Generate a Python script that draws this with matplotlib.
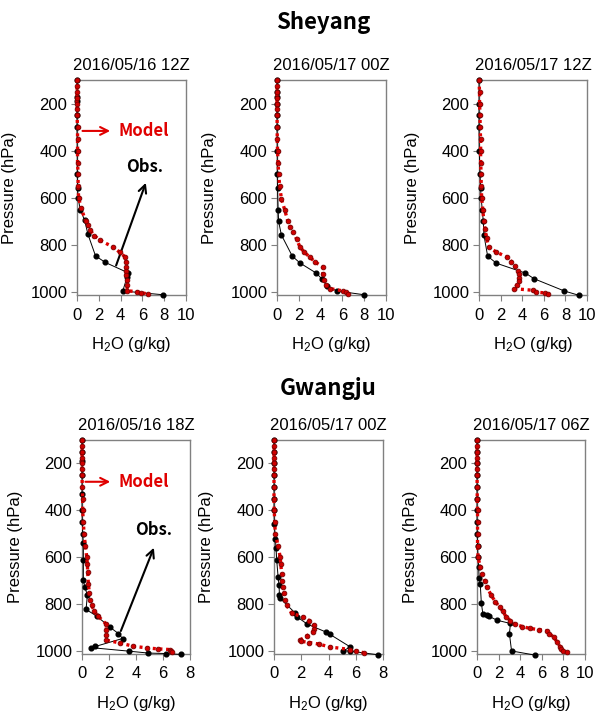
import matplotlib.pyplot as plt

plt.rcParams['font.family'] = ['Liberation Sans', 'DejaVu Sans']
plt.rcParams['mathtext.default'] = 'regular'

# ---- data (pressure hPa, H2O g/kg) ----
# Sheyang 2016/05/16 12Z
p_obs1 = [100, 170, 190, 250, 300, 400, 500, 560, 600, 650, 695, 754, 846, 874, 918, 935, 995, 1011]
q_obs1 = [0, 0, 0, 0, 0, 0.02, 0.03, 0.05, 0.1, 0.3, 0.7, 1.0, 1.7, 2.6, 4.7, 4.6, 4.2, 7.9]
p_mod1 = [100, 125, 150, 175, 200, 225, 250, 300, 350, 400, 450, 500, 550, 600, 645, 700, 716, 737,
          760, 780, 808, 830, 850, 870, 892, 910, 928, 949, 970, 994, 998, 1002, 1008]
q_mod1 = [0, 0, 0, 0, 0, 0, 0, 0.05, 0.05, 0.05, 0.05, 0.1, 0.1, 0.15, 0.4, 0.8, 1.0, 1.2,
          1.6, 2.1, 3.3, 3.9, 4.4, 4.5, 4.5, 4.5, 4.5, 4.6, 4.6, 4.6, 5.5, 5.9, 6.5]

# Sheyang 2016/05/17 00Z
p_obs2 = [100, 150, 170, 200, 250, 300, 400, 500, 560, 650, 700, 757, 847, 876, 919, 943, 975, 995, 1011]
q_obs2 = [0, 0, 0, 0, 0, 0, 0.02, 0.03, 0.05, 0.1, 0.15, 0.4, 1.4, 2.1, 3.6, 4.1, 4.6, 5.5, 8.0]
p_mod2 = [100, 125, 150, 175, 200, 225, 250, 300, 350, 400, 450, 500, 550, 603, 650, 700, 724, 745,
          775, 808, 830, 851, 872, 893, 921, 950, 970, 985, 995, 1000, 1007]
q_mod2 = [0, 0, 0, 0, 0, 0, 0, 0.02, 0.02, 0.05, 0.1, 0.15, 0.25, 0.4, 0.7, 1.0, 1.2, 1.5,
          1.8, 2.1, 2.5, 3.0, 3.5, 4.2, 4.2, 4.3, 4.5, 4.9, 6.1, 6.3, 6.5]

# Sheyang 2016/05/17 12Z
p_obs3 = [100, 200, 250, 300, 400, 500, 560, 600, 650, 700, 759, 847, 877, 919, 943, 995, 1014]
q_obs3 = [0, 0, 0, 0, 0.02, 0.1, 0.15, 0.2, 0.3, 0.4, 0.46, 0.8, 1.6, 4.3, 5.1, 7.9, 9.3]
p_mod3 = [100, 150, 200, 250, 300, 350, 400, 450, 500, 550, 600, 650, 700, 730, 770, 808, 830, 851,
          870, 890, 910, 924, 940, 954, 970, 985, 992, 1000, 1003, 1009]
q_mod3 = [0, 0.05, 0.05, 0.1, 0.1, 0.15, 0.15, 0.15, 0.2, 0.2, 0.25, 0.35, 0.45, 0.55, 0.7, 0.9, 1.6, 2.6,
          3.0, 3.3, 3.6, 3.7, 3.7, 3.7, 3.5, 3.2, 5.0, 5.3, 6.1, 6.4]

# Gwangju 2016/05/16 18Z
p_obs4 = [100, 150, 190, 250, 330, 400, 450, 500, 540, 610, 697, 726, 761, 822, 851, 899, 925, 946,
          980, 985, 1000, 1008, 1010, 1014]
q_obs4 = [0, 0, 0, 0, 0, 0, 0.02, 0.05, 0.1, 0.1, 0.1, 0.2, 0.4, 0.3, 1.1, 2.1, 2.7, 3.0,
          0.98, 0.7, 3.5, 4.9, 6.2, 7.3]
p_mod4 = [100, 125, 150, 175, 200, 225, 250, 300, 350, 400, 450, 500, 550, 598, 630, 662, 712, 754,
          780, 804, 830, 851, 885, 910, 930, 953, 965, 979, 986, 990, 993, 1000, 1003]
q_mod4 = [0, 0, 0, 0, 0, 0, 0, 0.02, 0.05, 0.05, 0.1, 0.15, 0.25, 0.35, 0.4, 0.42, 0.47, 0.55,
          0.6, 0.72, 0.9, 1.2, 1.8, 1.8, 1.8, 1.8, 2.8, 3.8, 4.8, 5.6, 6.5, 6.6, 6.7]

# Gwangju 2016/05/17 00Z
p_obs5 = [100, 150, 200, 250, 300, 350, 400, 460, 520, 560, 612, 683, 719, 761, 775, 837, 854, 885,
          918, 928, 982, 998, 1000, 1015]
q_obs5 = [0, 0, 0, 0, 0, 0, 0, 0.02, 0.1, 0.15, 0.2, 0.3, 0.37, 0.4, 0.45, 1.55, 1.7, 2.45,
          3.8, 4.1, 5.6, 5.1, 5.6, 7.6]
p_mod5 = [100, 125, 150, 175, 200, 225, 250, 300, 350, 400, 450, 500, 550, 598, 630, 669, 700, 726,
          754, 780, 804, 839, 854, 870, 889, 905, 918, 935, 953, 958, 963, 970, 982, 993, 998, 1007]
q_mod5 = [0, 0, 0, 0, 0, 0, 0, 0, 0, 0.02, 0.05, 0.1, 0.3, 0.45, 0.5, 0.56, 0.6, 0.64,
          0.7, 0.8, 0.93, 1.3, 2.16, 2.6, 2.9, 2.9, 2.85, 2.4, 1.9, 2.0, 2.6, 3.3, 4.1, 5.6, 6.0, 6.6]

# Gwangju 2016/05/17 06Z
p_obs6 = [100, 150, 200, 250, 300, 350, 400, 450, 500, 550, 600, 640, 690, 712, 794, 843, 847, 851,
          868, 882, 925, 999, 1017]
q_obs6 = [0, 0, 0, 0, 0, 0, 0, 0, 0.02, 0.05, 0.1, 0.15, 0.2, 0.3, 0.4, 0.55, 0.9, 1.1,
          1.85, 3.1, 3.0, 3.2, 5.4]
p_mod6 = [100, 125, 150, 175, 200, 225, 250, 300, 350, 400, 450, 500, 550, 600, 640, 669, 700, 726,
          760, 790, 811, 830, 854, 870, 885, 895, 903, 908, 913, 925, 940, 960, 982, 990, 1000, 1003]
q_mod6 = [0, 0, 0, 0, 0, 0, 0, 0.02, 0.02, 0.05, 0.05, 0.05, 0.05, 0.1, 0.3, 0.45, 0.7, 0.9,
          1.3, 1.7, 2.1, 2.4, 2.7, 3.1, 3.5, 4.2, 4.9, 5.7, 6.5, 6.7, 7.1, 7.4, 7.7, 7.8, 8.0, 8.3]

titles = ['2016/05/16 12Z', '2016/05/17 00Z', '2016/05/17 12Z',
          '2016/05/16 18Z', '2016/05/17 00Z', '2016/05/17 06Z']
xmax = [10, 10, 10, 8, 8, 10]
obs = [(q_obs1, p_obs1), (q_obs2, p_obs2), (q_obs3, p_obs3),
       (q_obs4, p_obs4), (q_obs5, p_obs5), (q_obs6, p_obs6)]
mod = [(q_mod1, p_mod1), (q_mod2, p_mod2), (q_mod3, p_mod3),
       (q_mod4, p_mod4), (q_mod5, p_mod5), (q_mod6, p_mod6)]

RED = '#e00000'
GRAY = '#808080'
BOLDFONT = ['Noto Sans CJK KR', 'DejaVu Sans']

fig = plt.figure(figsize=(6.04, 7.2), dpi=100)
W, H = 604.0, 720.0
# axes boxes in pixels: left, top, right, bottom
boxes = [(77, 80, 186, 295), (277, 80, 386, 295), (479, 80, 587, 295),
         (82, 440, 190, 654), (274, 440, 383, 654), (477, 440, 585, 654)]

axes = []
for i, (l, t, r, b) in enumerate(boxes):
    ax = fig.add_axes([l / W, 1 - b / H, (r - l) / W, (b - t) / H])
    axes.append(ax)
    q, p = obs[i]
    ax.plot(q, p, color='black', lw=0.7, marker='o', ms=3.4, mec='black', mfc='black',
            clip_on=False, zorder=3)
    q, p = mod[i]
    ax.plot(q, p, color=RED, lw=2.4, ls=(0, (0.9, 1.1)), marker='o', ms=3.4,
            mfc='#d00000', mec='#7a0000', mew=0.6, clip_on=False, zorder=4)
    ax.set_xlim(0, xmax[i])
    ax.set_ylim(1012, 100)
    ax.set_xticks(range(0, xmax[i] + 1, 2))
    ax.set_yticks([200, 400, 600, 800, 1000])
    for s in ax.spines.values():
        s.set_color(GRAY)
        s.set_linewidth(1.0)
    ax.tick_params(axis='both', direction='out', length=4, color=GRAY, labelsize=12)
    ax.tick_params(axis='y', pad=3)
    ax.tick_params(axis='x', pad=5)
    ax.set_title(titles[i], fontsize=12, pad=7)
    ax.set_xlabel('H$_2$O (g/kg)', fontsize=12)
    ax.xaxis.set_label_coords(0.5, -0.185)
    ax.set_ylabel('Pressure (hPa)', fontsize=12)
    ax.yaxis.set_label_coords(-0.55, 0.5)

# annotations
bold = dict(family=BOLDFONT, fontweight='bold', fontsize=12)
ax = axes[0]
ax.annotate('', xy=(3.3, 316), xytext=(0.25, 316),
            arrowprops=dict(arrowstyle='->', color=RED, lw=1.5, mutation_scale=14))
ax.text(3.8, 316, 'Model', color=RED, va='center', ha='left', **bold)
ax.annotate('', xy=(6.4, 525), xytext=(3.5, 898),
            arrowprops=dict(arrowstyle='->', color='black', lw=1.5, mutation_scale=14))
ax.text(6.2, 470, 'Obs.', color='black', va='center', ha='center', **bold)

ax = axes[3]
ax.annotate('', xy=(2.3, 278), xytext=(0.05, 278),
            arrowprops=dict(arrowstyle='->', color=RED, lw=1.5, mutation_scale=14))
ax.text(2.7, 278, 'Model', color=RED, va='center', ha='left', **bold)
ax.annotate('', xy=(5.4, 548), xytext=(2.8, 925),
            arrowprops=dict(arrowstyle='->', color='black', lw=1.5, mutation_scale=14))
ax.text(5.3, 484, 'Obs.', color='black', va='center', ha='center', **bold)

fig.text(323 / W, 1 - 23 / H, 'Sheyang', ha='center', va='center',
         family=BOLDFONT, fontweight='bold', fontsize=16)
fig.text(328 / W, 1 - 388 / H, 'Gwangju', ha='center', va='center',
         family=BOLDFONT, fontweight='bold', fontsize=16)

fig.savefig('out.png', dpi=100, facecolor='white')
